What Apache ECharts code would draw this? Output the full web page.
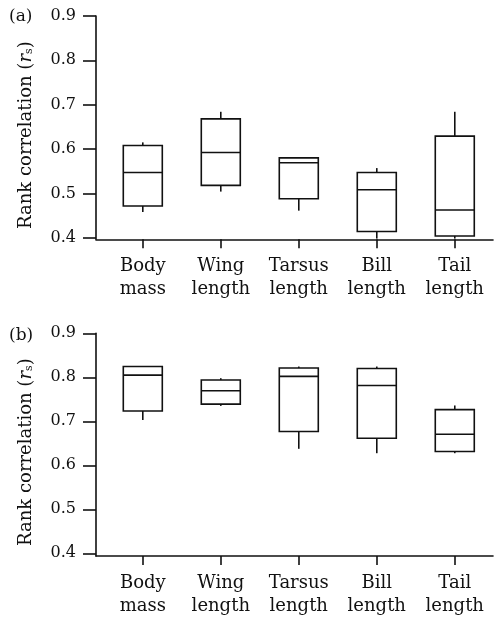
<!DOCTYPE html>
<html>
<head>
<meta charset="utf-8">
<script src="https://cdn.jsdelivr.net/npm/echarts@6/dist/echarts.min.js"></script>
<style>
  html, body { margin: 0; padding: 0; background: #fff; }
  #chart { width: 498px; height: 618px; }
</style>
</head>
<body>
<div id="chart"></div>
<script>
// categories and tick labels
var categories = ['Body\nmass', 'Wing\nlength', 'Tarsus\nlength', 'Bill\nlength', 'Tail\nlength'];
var catPositions = [1, 2, 3, 4, 5];
var yTicks = [0.4, 0.5, 0.6, 0.7, 0.8, 0.9];

// panel (a): whisker low, Q1, median, Q3, whisker high
var lowA = [0.458, 0.504, 0.461, 0.398, 0.398];
var q1A = [0.4715, 0.518, 0.488, 0.414, 0.404];
var medA = [0.547, 0.592, 0.569, 0.508, 0.4625];
var q3A = [0.608, 0.668, 0.580, 0.547, 0.629];
var highA = [0.615, 0.684, 0.580, 0.557, 0.684];

// panel (b)
var lowB = [0.703, 0.735, 0.6375, 0.6275, 0.6275];
var q1B = [0.7235, 0.739, 0.677, 0.6615, 0.6315];
var medB = [0.805, 0.7695, 0.802, 0.7815, 0.6705];
var q3B = [0.8245, 0.794, 0.821, 0.820, 0.7265];
var highB = [0.8245, 0.798, 0.8245, 0.8245, 0.736];

var FONT = 'DejaVu Serif';
var INK = '#111';
var LW = 1.6;

function buildRows(low, q1, med, q3, high) {
    var rows = [];
    for (var i = 0; i < catPositions.length; i++) {
        rows.push([catPositions[i], low[i], q1[i], med[i], q3[i], high[i]]);
    }
    return rows;
}

function stroke() {
    return { stroke: INK, lineWidth: LW, fill: 'none' };
}

// box + whiskers without end caps, positioned by the axes
function renderBox(params, api) {
    var x = api.value(0);
    var lo = api.coord([x, api.value(1)]);
    var q1 = api.coord([x, api.value(2)]);
    var md = api.coord([x, api.value(3)]);
    var q3 = api.coord([x, api.value(4)]);
    var hi = api.coord([x, api.value(5)]);
    var half = 19.5;
    return {
        type: 'group',
        children: [
            { type: 'line', shape: { x1: hi[0], y1: hi[1], x2: q3[0], y2: q3[1] }, style: stroke() },
            { type: 'line', shape: { x1: q1[0], y1: q1[1], x2: lo[0], y2: lo[1] }, style: stroke() },
            { type: 'rect', shape: { x: q3[0] - half, y: q3[1], width: half * 2, height: q1[1] - q3[1] }, style: stroke() },
            { type: 'line', shape: { x1: md[0] - half, y1: md[1], x2: md[0] + half, y2: md[1] }, style: stroke() }
        ]
    };
}

function xAxisFor(gridIndex) {
    return {
        type: 'value',
        gridIndex: gridIndex,
        min: 0.4,
        max: 5.49,
        splitLine: { show: false },
        axisLine: { lineStyle: { color: INK, width: LW } },
        axisTick: { customValues: catPositions, length: 9, lineStyle: { color: INK, width: LW } },
        axisLabel: {
            customValues: catPositions,
            formatter: function (v) { return categories[Math.round(v) - 1]; },
            margin: 16,
            fontFamily: FONT,
            fontSize: 18,
            lineHeight: 23,
            color: INK
        }
    };
}

function yAxisFor(gridIndex, min) {
    return {
        type: 'value',
        gridIndex: gridIndex,
        min: min,
        max: 0.9,
        splitLine: { show: false },
        axisLine: { show: true, lineStyle: { color: INK, width: LW } },
        axisTick: { show: true, customValues: yTicks, length: 13, lineStyle: { color: INK, width: LW } },
        axisLabel: {
            customValues: yTicks,
            formatter: function (v) { return v.toFixed(1); },
            margin: 20,
            fontFamily: FONT,
            fontSize: 16,
            color: INK
        },
        name: 'Rank correlation ({i|r}{s|s})',
        nameLocation: 'middle',
        nameRotate: 90,
        nameGap: 61,
        nameTextStyle: {
            fontFamily: FONT,
            fontSize: 18,
            color: INK,
            padding: [0, 15, 0, 0],
            rich: {
                i: { fontFamily: FONT, fontStyle: 'italic', fontSize: 18, color: INK },
                s: { fontFamily: FONT, fontSize: 11, color: INK, verticalAlign: 'bottom' }
            }
        }
    };
}

var chart = echarts.init(document.getElementById('chart'));
chart.setOption({
    animation: false,
    backgroundColor: '#fff',
    title: [
        { text: '(a)', left: 9, top: 8, padding: 0, textStyle: { fontFamily: FONT, fontSize: 17, fontWeight: 'normal', color: INK } },
        { text: '(b)', left: 9, top: 327, padding: 0, textStyle: { fontFamily: FONT, fontSize: 17, fontWeight: 'normal', color: INK } }
    ],
    grid: [
        { left: 96, right: 5, top: 16, height: 223.3 },
        { left: 96, right: 5, top: 333.3, height: 223.7 }
    ],
    xAxis: [xAxisFor(0), xAxisFor(1)],
    yAxis: [yAxisFor(0, 0.3964), yAxisFor(1, 0.3939)],
    series: [
        { type: 'custom', xAxisIndex: 0, yAxisIndex: 0, renderItem: renderBox, data: buildRows(lowA, q1A, medA, q3A, highA) },
        { type: 'custom', xAxisIndex: 1, yAxisIndex: 1, renderItem: renderBox, data: buildRows(lowB, q1B, medB, q3B, highB) }
    ]
});
</script>
</body>
</html>
